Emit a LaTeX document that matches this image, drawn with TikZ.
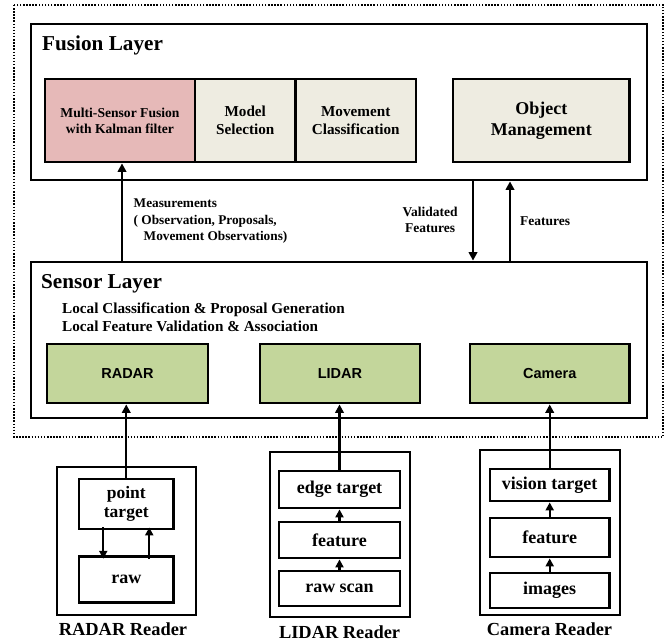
\documentclass[tikz,border=0pt]{standalone}
\usepackage{fontspec}
\setmainfont{Liberation Serif}
\newfontfamily\arialf{Liberation Sans}
\usetikzlibrary{arrows.meta}
\definecolor{pinkf}{HTML}{E6B9B8}
\definecolor{beigef}{HTML}{EEECE1}
\definecolor{greenf}{HTML}{C3D69B}
\tikzset{
  box/.style={draw, line width=2.8pt, inner sep=0pt, align=center, font=\bfseries},
  fusebox/.style={box, minimum height=83pt, fill=beigef},
  greenbox/.style={box, fill=greenf, minimum height=59pt, font=\arialf\bfseries\fontsize{14.5}{16}\selectfont},
  readerbox/.style={box},
  inbox/.style={box, font=\bfseries\fontsize{18}{19.5}\selectfont},
  arr/.style={line width=2.3pt, -{Triangle[length=8.5pt,width=8.5pt]}},
  sarr/.style={line width=2.1pt, -{Triangle[length=8pt,width=8pt]}},
  lbl/.style={inner sep=0pt, font=\bfseries},
}
\begin{document}
\begin{tikzpicture}[x=1pt,y=-1pt]
\useasboundingbox (0,0) rectangle (668,642);
% dotted outer frame
\draw[line width=2.2pt, dash pattern=on 1.5pt off 1.6pt] (14,5) rectangle (663,437);
% layers
\node[box, minimum width=616pt, minimum height=156pt] (fusion) at (339,102) {};
\node[lbl, anchor=base west, font=\bfseries\fontsize{21.2}{23}\selectfont] (fusiont) at (42,50) {Fusion Layer};
\node[fusebox, fill=pinkf, minimum width=150pt, font=\bfseries\fontsize{13.6}{16}\selectfont] (msf) at (120,120.5) {Multi-Sensor Fusion\\with Kalman filter};
\node[fusebox, minimum width=100.5pt, font=\bfseries\fontsize{15.2}{17.5}\selectfont] (model) at (245.25,120.5) {Model\\Selection};
\node[fusebox, minimum width=120.5pt, font=\bfseries\fontsize{15.2}{17.5}\selectfont] (move) at (355.75,120.5) {Movement\\Classification};
\node[fusebox, minimum width=176.5pt, font=\bfseries\fontsize{18}{21}\selectfont] (obj) at (541.25,120.5) {Object\\Management};

\node[box, minimum width=616pt, minimum height=156pt] (sensor) at (339,340) {};
\node[lbl, anchor=base west, font=\bfseries\fontsize{21.2}{23}\selectfont] (sensort) at (41,288) {Sensor Layer};
\node[lbl, anchor=base west, align=left, font=\bfseries\fontsize{15.2}{17.7}\selectfont] (local) at (62,331) {Local Classification \& Proposal Generation\\Local Feature Validation \& Association};
\node[greenbox, minimum width=161pt] (radar) at (127.5,373.5) {RADAR};
\node[greenbox, minimum width=160pt] (lidar) at (340,373.5) {LIDAR};
\node[greenbox, minimum width=159.5pt] (camera) at (549.75,373.5) {Camera};

% between layers
\coordinate (mbot) at (122,262);
\draw[arr] (mbot) -- (mbot |- msf.south);
\node[lbl, anchor=base west, align=left, font=\bfseries\fontsize{13.3}{16.3}\selectfont] (meas) at (133.5,240.5) {Measurements\\( Observation, Proposals,\\\hspace*{10pt}Movement Observations)};
\coordinate (vtop) at (473,180);
\draw[arr] (vtop) -- (vtop |- sensor.north);
\coordinate (fbot) at (510,262);
\draw[arr] (fbot) -- (fbot |- fusion.south);
\node[lbl, anchor=base, align=center, font=\bfseries\fontsize{13.5}{16.3}\selectfont] (valid) at (430,232.3) {Validated\\Features};
\node[lbl, anchor=base west, font=\bfseries\fontsize{13.5}{16}\selectfont] (feat) at (520,225) {Features};

% RADAR reader
\node[readerbox, minimum width=139pt, minimum height=148pt] (rr) at (126.5,541) {};
\node[inbox, minimum width=94.5pt, minimum height=50pt, font=\bfseries\fontsize{17.5}{19}\selectfont] (pt) at (126.25,504) {point\\target};
\node[inbox, minimum width=94.5pt, minimum height=46pt] (raw) at (126.25,579.7) {raw};
\draw[sarr] ([xshift=-23pt,yshift=3pt]pt.south) -- ([xshift=-23pt,yshift=-3.5pt]raw.north);
\draw[sarr] ([xshift=23pt,yshift=-3.5pt]raw.north) -- ([xshift=23pt,yshift=3pt]pt.south);
\node[lbl, font=\bfseries\fontsize{18.4}{20}\selectfont] (rrl) at (123,629) {RADAR Reader};
\draw[arr] (pt.north) -- (pt.north |- radar.south);

% LIDAR reader
\node[readerbox, minimum width=140pt, minimum height=165pt] (lr) at (340,534.5) {};
\node[inbox, minimum width=121pt, minimum height=37pt] (edge) at (339.5,489.5) {edge target};
\node[inbox, minimum width=121pt, minimum height=36pt] (lfeat) at (339.5,540) {feature};
\node[inbox, minimum width=121pt, minimum height=35pt] (scan) at (339.5,588.5) {raw scan};
\draw[sarr] (scan.north) -- (lfeat.south);
\draw[sarr] (lfeat.north) -- (edge.south);
\node[lbl, font=\bfseries\fontsize{18.4}{20}\selectfont] (lrl) at (339.6,632) {LIDAR Reader};
\draw[arr] (edge.north) -- (edge.north |- lidar.south);

% Camera reader
\node[readerbox, minimum width=140pt, minimum height=165pt] (cr) at (550,532.5) {};
\node[inbox, minimum width=119.4pt, minimum height=32pt] (vis) at (549.7,485) {vision target};
\node[inbox, minimum width=119.4pt, minimum height=39pt] (cfeat) at (549.7,537.5) {feature};
\node[inbox, minimum width=119.4pt, minimum height=35pt] (img) at (549.7,590.5) {images};
\draw[sarr] (img.north) -- (cfeat.south);
\draw[sarr] (cfeat.north) -- (vis.south);
\node[lbl, font=\bfseries\fontsize{18.4}{20}\selectfont] (crl) at (549.5,629) {Camera Reader};
\draw[arr] (vis.north) -- (vis.north |- camera.south);
\end{tikzpicture}
\end{document}
